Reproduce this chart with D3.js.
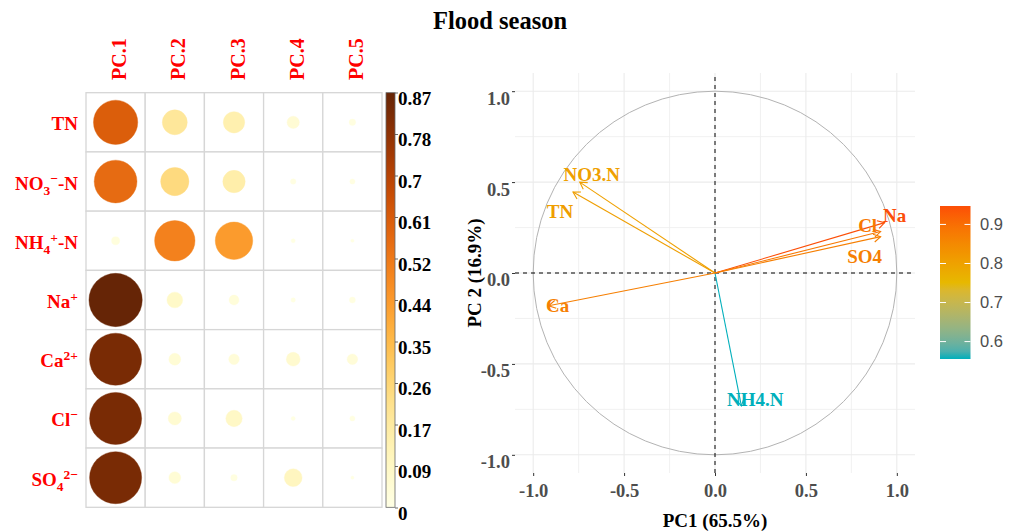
<!DOCTYPE html>
<html><head><meta charset="utf-8">
<script src="https://cdn.jsdelivr.net/npm/d3@7"></script>
<style>body{margin:0;background:#fff}svg{display:block}</style>
</head><body>
<svg id="chart" width="1015" height="532"></svg>
<script>
// ---------- DATA ----------
const title = "Flood season";
const pcNames = ["PC.1", "PC.2", "PC.3", "PC.4", "PC.5"];
// row labels as text segments (sub / sup)
const varLabels = [
  [{t:"TN"}],
  [{t:"NO"},{t:"3",s:"sub"},{t:"\u2212",s:"sup"},{t:"-N"}],
  [{t:"NH"},{t:"4",s:"sub"},{t:"+",s:"sup"},{t:"-N"}],
  [{t:"Na"},{t:"+",s:"sup"}],
  [{t:"Ca"},{t:"2+",s:"sup"}],
  [{t:"Cl"},{t:"\u2212",s:"sup"}],
  [{t:"SO"},{t:"4",s:"sub"},{t:"2\u2212",s:"sup"}]
];
const cos2TN  = [0.60, 0.19, 0.14, 0.046, 0.013];
const cos2NO3 = [0.56, 0.245, 0.153, 0.009, 0.008];
const cos2NH4 = [0.02, 0.50, 0.43, 0.005, 0.003];
const cos2Na  = [0.87, 0.076, 0.03, 0.006, 0.011];
const cos2Ca  = [0.83, 0.043, 0.034, 0.058, 0.034];
const cos2Cl  = [0.83, 0.053, 0.082, 0.005, 0.008];
const cos2SO4 = [0.83, 0.043, 0.013, 0.097, 0.003];
const cos2Rows = [cos2TN, cos2NO3, cos2NH4, cos2Na, cos2Ca, cos2Cl, cos2SO4];
const colorbarLabels = ["0","0.09","0.17","0.26","0.35","0.44","0.52","0.61","0.7","0.78","0.87"];

// PCA variable correlation circle
const pcaVars = ["TN", "NO3.N", "NH4.N", "Na", "Ca", "Cl", "SO4"];
const pcaDim1 = [-0.781, -0.744, 0.145, 0.933, -0.915, 0.911, 0.911];
const pcaDim2 = [0.445, 0.500, -0.731, 0.277, -0.180, 0.228, 0.200];
const pcaAxisTicks = [-1, -0.5, 0, 0.5, 1];
const pcaMinorTicks = [-0.75, -0.25, 0.25, 0.75];
const legendTicks = [0.6, 0.7, 0.8, 0.9];
const xTitle = "PC1 (65.5%)";
const yTitle = "PC 2 (16.9%)";

// ---------- DRAW ----------
const svg = d3.select("#chart");
const serif = "'Liberation Serif','Times New Roman',serif";
const sans = "'Liberation Sans',Arial,sans-serif";

svg.append("text").attr("x", 500).attr("y", 29).attr("text-anchor", "middle")
  .attr("font-family", serif).attr("font-weight", "bold").attr("font-size", 24.5)
  .attr("fill", "#000").text(title);

// ---- corrplot ----
const gx = d3.scaleBand().domain(pcNames).range([86, 382]);
const gy = d3.scaleBand().domain(d3.range(varLabels.length)).range([92.7, 507.3]);
const vmax = 0.87;
const fillScale = v => d3.interpolateYlOrBr(v / vmax);
const rScale = d3.scaleSqrt().domain([0, vmax]).range([0, gx.bandwidth() * 0.45]);

const cp = svg.append("g");
cos2Rows.forEach((row, i) => {
  row.forEach((v, j) => {
    cp.append("rect").attr("x", gx(pcNames[j])).attr("y", gy(i))
      .attr("width", gx.bandwidth()).attr("height", gy.bandwidth())
      .attr("fill", "#fff").attr("stroke", "#D6D6D6").attr("stroke-width", 1.3);
  });
});
cos2Rows.forEach((row, i) => {
  row.forEach((v, j) => {
    cp.append("circle").attr("cx", gx(pcNames[j]) + gx.bandwidth() / 2)
      .attr("cy", gy(i) + gy.bandwidth() / 2).attr("r", rScale(v))
      .attr("fill", fillScale(v)).attr("stroke", fillScale(v)).attr("stroke-opacity", 0.5)
      .attr("stroke-width", 0.8);
  });
});
// column labels
pcNames.forEach(n => {
  cp.append("text").attr("transform", `translate(${gx(n) + gx.bandwidth() / 2 + 10.5},80) rotate(-90)`)
    .attr("font-family", serif).attr("font-weight", "bold").attr("font-size", 20)
    .attr("fill", "#FF0000").text(n);
});
// row labels
varLabels.forEach((segs, i) => {
  const t = cp.append("text").attr("x", 78).attr("y", gy(i) + gy.bandwidth() / 2 + 8)
    .attr("text-anchor", "end").attr("font-family", serif).attr("font-weight", "bold")
    .attr("font-size", 19).attr("fill", "#FF0000");
  let shift = 0;
  segs.forEach(sg => {
    let target = 0, fs = 19;
    if (sg.s === "sub") { target = 5; fs = 13.5; }
    if (sg.s === "sup") { target = -7; fs = 13.5; }
    t.append("tspan").attr("dy", target - shift).attr("font-size", fs).text(sg.t);
    shift = target;
  });
});
// colorbar
const defs = svg.append("defs");
const cbg = defs.append("linearGradient").attr("id", "cbg").attr("x1", 0).attr("y1", 1).attr("x2", 0).attr("y2", 0);
d3.range(0, 1.0001, 0.05).forEach(p => cbg.append("stop").attr("offset", p).attr("stop-color", d3.interpolateYlOrBr(p)));
cp.append("rect").attr("x", 386).attr("y", 92.7).attr("width", 9).attr("height", 414.6)
  .attr("fill", "url(#cbg)").attr("stroke", "#666").attr("stroke-width", 0.8);
const cbLab = d3.scalePoint().domain(colorbarLabels).range([513, 98]);
colorbarLabels.forEach(l => {
  cp.append("line").attr("x1", 395).attr("x2", 398).attr("y1", cbLab(l) - 5).attr("y2", cbLab(l) - 5)
    .attr("stroke", "#444").attr("stroke-width", 0.8);
  cp.append("text").attr("x", 398).attr("y", cbLab(l) + 6.5).attr("font-family", serif)
    .attr("font-weight", "bold").attr("font-size", 19).attr("fill", "#000").text(l);
});

// ---- PCA circle ----
const px = d3.scaleLinear().domain([-1.1, 1.1]).range([515, 915]);
const py = d3.scaleLinear().domain([-1.1, 1.1]).range([473, 73]);
const pg = svg.append("g");
pcaMinorTicks.forEach(v => {
  pg.append("line").attr("x1", px(v)).attr("x2", px(v)).attr("y1", py(-1.1)).attr("y2", py(1.1)).attr("stroke", "#EEEEEE").attr("stroke-width", 0.8);
  pg.append("line").attr("y1", py(v)).attr("y2", py(v)).attr("x1", px(-1.1)).attr("x2", px(1.1)).attr("stroke", "#EEEEEE").attr("stroke-width", 0.8);
});
pcaAxisTicks.forEach(v => {
  pg.append("line").attr("x1", px(v)).attr("x2", px(v)).attr("y1", py(-1.1)).attr("y2", py(1.1)).attr("stroke", "#EBEBEB").attr("stroke-width", 1.1);
  pg.append("line").attr("y1", py(v)).attr("y2", py(v)).attr("x1", px(-1.1)).attr("x2", px(1.1)).attr("stroke", "#EBEBEB").attr("stroke-width", 1.1);
});
pg.append("circle").attr("cx", px(0)).attr("cy", py(0)).attr("r", px(1) - px(0))
  .attr("fill", "none").attr("stroke", "#B3B3B3").attr("stroke-width", 1);
pg.append("line").attr("x1", px(-1.1)).attr("x2", px(1.1)).attr("y1", py(0)).attr("y2", py(0))
  .attr("stroke", "#000").attr("stroke-width", 1).attr("stroke-dasharray", "4,4");
pg.append("line").attr("x1", px(0)).attr("x2", px(0)).attr("y1", py(-1.1)).attr("y2", py(1.1))
  .attr("stroke", "#000").attr("stroke-width", 1).attr("stroke-dasharray", "4,4");

const yAxis = d3.axisLeft(py).tickValues(pcaAxisTicks).tickSize(3).tickPadding(2).tickFormat(d => d.toFixed(1));
const ya = pg.append("g").attr("transform", `translate(${px(-1.1)},0)`).call(yAxis);
const xAxis = d3.axisBottom(px).tickValues(pcaAxisTicks).tickSize(3).tickPadding(8).tickFormat(d => d.toFixed(1));
const xa = pg.append("g").attr("transform", `translate(0,${py(-1.1)})`).call(xAxis);
[ya, xa].forEach(a => {
  a.select(".domain").remove();
  a.selectAll(".tick line").attr("stroke", "#333").attr("stroke-width", 1);
  a.selectAll(".tick text").attr("font-family", serif).attr("font-weight", "bold")
    .attr("font-size", 18.5).attr("fill", "#4D4D4D");
});
ya.selectAll(".tick text").attr("dy", "0.7em");

pg.append("text").attr("x", px(0)).attr("y", 527).attr("text-anchor", "middle")
  .attr("font-family", serif).attr("font-weight", "bold").attr("font-size", 19).attr("fill", "#000").text(xTitle);
pg.append("text").attr("transform", `translate(481,${py(0)}) rotate(-90)`).attr("text-anchor", "middle")
  .attr("font-family", serif).attr("font-weight", "bold").attr("font-size", 19).attr("fill", "#000").text(yTitle);

const cos2pl = pcaVars.map((v, i) => pcaDim1[i] ** 2 + pcaDim2[i] ** 2);
const [cmin, cmax] = d3.extent(cos2pl);
const colScale = d3.scaleLinear().domain([cmin, (cmin + cmax) / 2, cmax])
  .range(["#00AFBB", "#E7B800", "#FC4E07"]).interpolate(d3.interpolateLab);

const labelOffset = {"TN":[-13,19], "NO3.N":[12,-8], "NH4.N":[14,-7], "Na":[10,-7], "Ca":[9,0], "Cl":[-13,-6], "SO4":[-16,20]};

pcaVars.forEach((v, i) => {
  const x0 = px(0), y0 = py(0), x1 = px(pcaDim1[i]), y1 = py(pcaDim2[i]);
  const c = colScale(cos2pl[i]);
  pg.append("line").attr("x1", x0).attr("y1", y0).attr("x2", x1).attr("y2", y1)
    .attr("stroke", c).attr("stroke-width", 1.1);
  const ang = Math.atan2(y1 - y0, x1 - x0);
  const L = 8, a = Math.PI / 6;
  const p1 = [x1 - L * Math.cos(ang - a), y1 - L * Math.sin(ang - a)];
  const p2 = [x1 - L * Math.cos(ang + a), y1 - L * Math.sin(ang + a)];
  pg.append("path").attr("d", `M${p1[0]},${p1[1]}L${x1},${y1}L${p2[0]},${p2[1]}`)
    .attr("fill", "none").attr("stroke", c).attr("stroke-width", 1.1);
});
pcaVars.forEach((v, i) => {
  const c = colScale(cos2pl[i]);
  const o = labelOffset[v];
  pg.append("text").attr("x", px(pcaDim1[i]) + o[0]).attr("y", py(pcaDim2[i]) + o[1])
    .attr("dy", "0.35em").attr("text-anchor", "middle").attr("font-family", serif)
    .attr("font-weight", "bold").attr("font-size", 19).attr("fill", c).text(v);
});

const lg = svg.append("g");
const ly = d3.scaleLinear().domain([cmin, cmax]).range([359, 206]);
const lgrad = defs.append("linearGradient").attr("id", "lgrad").attr("x1", 0).attr("y1", 1).attr("x2", 0).attr("y2", 0);
d3.range(0, 1.0001, 0.05).forEach(p => lgrad.append("stop").attr("offset", p).attr("stop-color", colScale(cmin + p * (cmax - cmin))));
lg.append("rect").attr("x", 940).attr("y", 206).attr("width", 30.5).attr("height", 153).attr("fill", "url(#lgrad)");
legendTicks.forEach(t => {
  lg.append("line").attr("x1", 940).attr("x2", 946).attr("y1", ly(t)).attr("y2", ly(t)).attr("stroke", "#fff").attr("stroke-width", 1);
  lg.append("line").attr("x1", 964.5).attr("x2", 970.5).attr("y1", ly(t)).attr("y2", ly(t)).attr("stroke", "#fff").attr("stroke-width", 1);
  lg.append("text").attr("x", 980).attr("y", ly(t)).attr("dy", "0.35em").attr("font-family", sans)
    .attr("font-size", 16.5).attr("fill", "#4D4D4D").text(t.toFixed(1));
});
</script>
</body></html>
